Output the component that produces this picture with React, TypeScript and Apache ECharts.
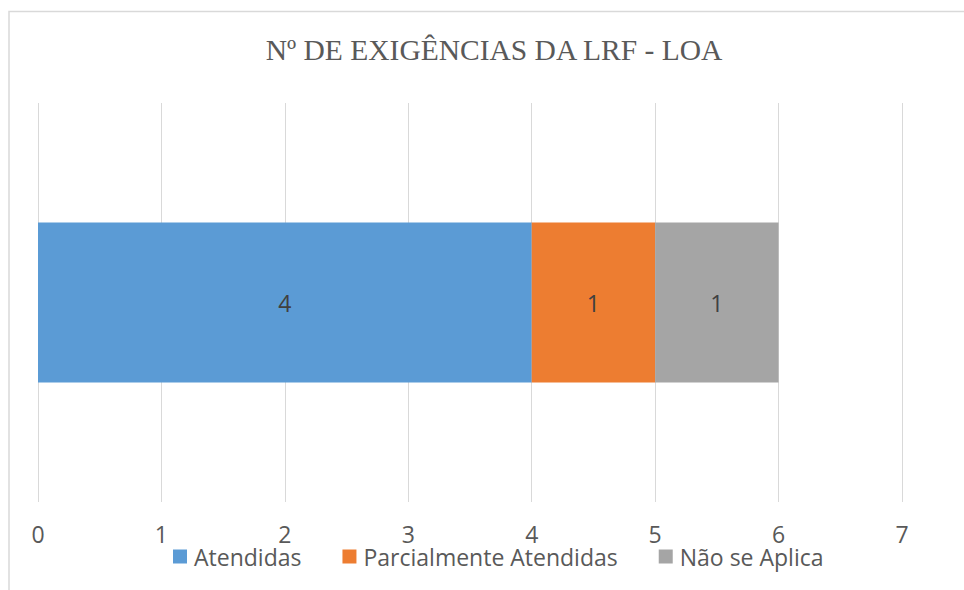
import React, { useEffect, useRef } from "react";
import * as echarts from "echarts";

const categories = ["LOA"];
const seriesNames = ["Atendidas", "Parcialmente Atendidas", "Não se Aplica"];
const atendidas = [4];
const parcialmente = [1];
const naoSeAplica = [1];
const colors = ["#5B9BD5", "#ED7D31", "#A5A5A5"];
const titleText = "Nº DE EXIGÊNCIAS DA LRF - LOA";

export default function App() {
  const ref = useRef<HTMLDivElement>(null);
  useEffect(() => {
    if (!ref.current) return;
    const chart = echarts.init(ref.current, null, { renderer: "svg" });
    const values = [atendidas, parcialmente, naoSeAplica];
    chart.setOption({
      animation: false,
      backgroundColor: "#ffffff",
      title: {
        text: titleText,
        left: 489,
        top: 30,
        textAlign: "center",
        textStyle: {
          fontFamily: "Liberation Serif",
          fontSize: 29.5,
          fontWeight: "normal",
          color: "#595959",
        },
      },
      graphic: [
        {
          type: "rect",
          shape: { x: 9, y: 11.5, width: 1100, height: 1000 },
          style: { fill: "none", stroke: "#D9D9D9", lineWidth: 1.5 },
          silent: true,
        },
      ],
      legend: {
        data: seriesNames,
        left: 173,
        top: 545,
        padding: 0,
        itemWidth: 14,
        itemHeight: 14,
        itemGap: 41,
        icon: "rect",
        textStyle: {
          fontFamily: "Open Sans",
          fontSize: 23,
          lineHeight: 22,
          color: "#595959",
          padding: [0, 0, 0, 2],
        },
      },
      grid: { left: 38, right: 62, top: 103, bottom: 88, containLabel: false },
      xAxis: {
        type: "value",
        min: 0,
        max: 7,
        interval: 1,
        axisLine: { show: false },
        axisTick: { show: false },
        splitLine: { show: true, lineStyle: { color: "#D9D9D9", width: 1 } },
        axisLabel: {
          margin: 23,
          fontFamily: "Open Sans",
          fontSize: 23,
          lineHeight: 18,
          color: "#595959",
        },
      },
      yAxis: {
        type: "category",
        data: categories,
        show: false,
      },
      series: seriesNames.map((name, i) => ({
        name,
        type: "bar",
        stack: "total",
        barWidth: 160,
        data: values[i],
        itemStyle: { color: colors[i] },
        label: {
          show: true,
          position: "inside",
          fontFamily: "Open Sans",
          fontSize: 23,
          color: "#404040",
        },
      })),
    });
    return () => chart.dispose();
  }, []);
  return (
    <div
      ref={ref}
      style={{ position: "fixed", left: 0, top: 0, width: 964, height: 590 }}
    />
  );
}
